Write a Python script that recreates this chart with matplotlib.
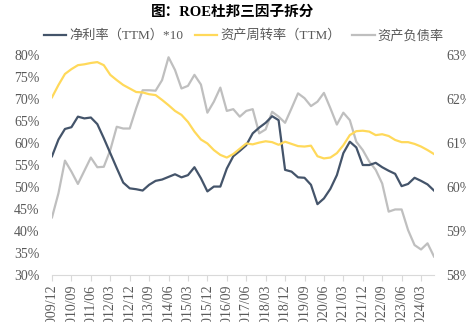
import matplotlib
matplotlib.use('Agg')
import matplotlib.pyplot as plt

plt.rcParams['font.family'] = ['Liberation Serif', 'Noto Sans CJK SC', 'DejaVu Sans']

# quarterly, 2009/12 .. 2024/09
quarters = []
for y in range(2009, 2025):
    for m in ('03', '06', '09', '12'):
        q = f'{y}/{m}'
        if '2009/12' <= q <= '2024/09':
            quarters.append(q)

net_margin_x10 = [57.0, 60.8, 63.2, 63.6, 66.0, 65.6, 65.8, 64.3, 61.1, 57.7,
                  54.3, 51.0, 49.7, 49.5, 49.2, 50.5, 51.4, 51.7, 52.3, 52.9,
                  52.2, 52.7, 54.5, 52.0, 49.0, 50.1, 50.1, 54.2, 57.0, 58.2,
                  59.5, 62.2, 63.5, 64.6, 66.1, 65.2, 53.9, 53.5, 52.2, 52.1,
                  50.5, 46.1, 47.4, 49.6, 52.7, 57.7, 60.3, 59.0, 55.0, 55.0,
                  55.5, 54.5, 53.7, 53.0, 50.2, 50.7, 52.1, 51.4, 50.6, 49.2]

asset_turnover = [70.4, 73.2, 75.7, 76.8, 77.7, 77.9, 78.2, 78.4, 77.7, 75.5,
                  74.3, 73.2, 72.4, 71.6, 71.5, 71.1, 70.9, 69.8, 68.6, 67.3,
                  66.4, 64.8, 62.6, 60.8, 59.9, 58.4, 57.3, 56.7, 57.5, 58.7,
                  59.9, 59.7, 60.1, 60.4, 60.2, 59.6, 60.3, 59.8, 59.3, 59.2,
                  59.4, 57.0, 56.5, 56.7, 57.7, 59.5, 61.8, 62.7, 62.8, 62.6,
                  61.8, 62.0, 61.6, 60.7, 60.2, 60.2, 59.8, 59.2, 58.4, 57.5]

debt_ratio = [59.31, 59.86, 60.60, 60.35, 60.07, 60.37, 60.67, 60.45, 60.46, 60.84,
              61.37, 61.33, 61.33, 61.79, 62.20, 62.20, 62.19, 62.43, 62.95, 62.66,
              62.24, 62.30, 62.55, 62.33, 61.69, 61.94, 62.26, 61.73, 61.77, 61.60,
              61.73, 61.77, 61.22, 61.31, 61.71, 61.60, 61.46, 61.79, 62.13, 62.02,
              61.84, 61.94, 62.14, 61.79, 61.42, 61.69, 61.52, 61.03, 60.84, 60.58,
              60.39, 60.08, 59.44, 59.49, 59.49, 59.02, 58.68, 58.58, 58.72, 58.42]

left_ticks = [30, 35, 40, 45, 50, 55, 60, 65, 70, 75, 80]
right_ticks = [58, 59, 60, 61, 62, 63]

navy = '#44546A'
yellow = '#FFD95A'
grey = '#BFBFBF'
txt = '#595959'

fig = plt.figure(figsize=(4.66, 3.22), dpi=100)
ax = fig.add_axes([0.1116, 0.146, 0.8197, 0.683])
ax2 = ax.twinx()

x = list(range(len(quarters)))
l1, = ax.plot(x, net_margin_x10, color=navy, lw=1.6, label='净利率（TTM）*10')
l2, = ax.plot(x, asset_turnover, color=yellow, lw=1.6, label='资产周转率（TTM）')
l3, = ax2.plot(x, debt_ratio, color=grey, lw=1.6, label='资产负债率')
ax.set_zorder(ax2.get_zorder() + 1)
ax.patch.set_visible(False)

ax.set_xlim(0, len(quarters) - 1)
ax.set_ylim(30, 80)
ax2.set_ylim(58, 63)
ax.set_yticks(left_ticks)
ax.set_yticklabels([f'{v}%' for v in left_ticks])
ax2.set_yticks(right_ticks)
ax2.set_yticklabels([f'{v}%' for v in right_ticks])

ax.set_xticks(x[::3])
ax.set_xticklabels(quarters[::3], rotation=90)

for a in (ax, ax2):
    for s in a.spines.values():
        s.set_visible(False)
    a.tick_params(axis='y', length=0, labelsize=10, labelcolor=txt, pad=9)
ax.spines['bottom'].set_visible(True)
ax.spines['bottom'].set_color('#D9D9D9')
ax.tick_params(axis='x', length=4, color='#D9D9D9', labelsize=10, labelcolor=txt, pad=3)

fig.text(0.5, 0.962, '图：ROE杜邦三因子拆分', ha='center', va='center',
         fontsize=10.5, fontweight='bold', color='black')
fig.legend(handles=[l1, l2, l3], loc='center', bbox_to_anchor=(0.523, 0.889),
           ncol=3, frameon=False, fontsize=9.5, labelcolor=txt,
           handlelength=1.7, handletextpad=0.2, columnspacing=0.9)

fig.savefig('out.png', dpi=100)
